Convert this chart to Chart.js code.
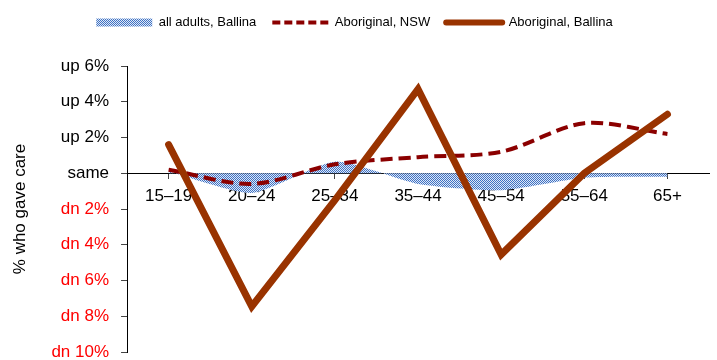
<!DOCTYPE html>
<html>
<head>
<meta charset="utf-8">
<script src="https://cdn.jsdelivr.net/npm/chart.js@4"></script>
<style>
html, body { margin: 0; padding: 0; background: #fff; }
#wrap { width: 717px; height: 360px; }
</style>
</head>
<body>
<div id="wrap"><canvas id="care"></canvas></div>
<script>
// age groups along the bottom
var ageGroups = ["15–19", "20–24", "25–34", "35–44", "45–54", "55–64", "65+"];
// change in % who gave care, percentage points
var allAdultsBallina = [0.1, -1.1, 0.65, -0.6, -0.95, -0.25, -0.2];
var aboriginalNSW = [0.2, -0.6, 0.5, 0.9, 1.2, 2.8, 2.2];
var aboriginalBallina = [1.6, -7.45, -1.5, 4.7, -4.55, 0, 3.3];

var font = "'Liberation Sans', Arial, sans-serif";

// little blue dither pattern for the area
function dotPattern() {
    var c = document.createElement("canvas");
    c.width = 2; c.height = 2;
    var g = c.getContext("2d");
    g.fillStyle = "#dfe8f6";
    g.fillRect(0, 0, 2, 2);
    g.fillStyle = "#3f72c4";
    g.fillRect(0, 0, 1, 1);
    g.fillRect(1, 1, 1, 1);
    return g.createPattern(c, "repeat");
}
var dots = dotPattern();

// push plot area down a bit below the legend
var legendGap = {
    id: "legendGap",
    beforeInit: function(chart) {
        var fit = chart.legend.fit;
        chart.legend.fit = function() {
            fit.bind(chart.legend)();
            this.height += 27;
        };
    }
};

new Chart("care", {
    type: "line",
    data: {
        labels: ageGroups,
        datasets: [{
            label: "all adults, Ballina",
            data: allAdultsBallina,
            backgroundColor: dots,
            borderWidth: 0,
            fill: "origin",
            pointRadius: 0,
            tension: 0.2,
            order: 3
        }, {
            label: "Aboriginal, NSW",
            data: aboriginalNSW,
            borderColor: "#8b0000",
            borderWidth: 4,
            borderDash: [12, 6],
            fill: false,
            pointRadius: 0,
            tension: 0.3,
            order: 2
        }, {
            label: "Aboriginal, Ballina",
            data: aboriginalBallina,
            borderColor: "#993300",
            borderWidth: 7,
            borderCapStyle: "round",
            fill: false,
            pointRadius: 0,
            tension: 0,
            order: 1
        }]
    },
    options: {
        responsive: true,
        maintainAspectRatio: false,
        animation: false,
        layout: { padding: { left: 0, right: 8, top: 0, bottom: 8 } },
        plugins: {
            tooltip: { enabled: false },
            legend: {
                display: true,
                position: "top",
                labels: {
                    usePointStyle: true,
                    pointStyleWidth: 56,
                    boxHeight: 8,
                    padding: 16,
                    color: "#000",
                    font: { family: font, size: 13 },
                    generateLabels: function(chart) {
                        var styles = [
                            { pointStyle: "rect", fillStyle: dots, strokeStyle: "rgba(0,0,0,0)", lineWidth: 0, lineDash: [] },
                            { pointStyle: "line", fillStyle: "#8b0000", strokeStyle: "#8b0000", lineWidth: 4, lineDash: [8, 4] },
                            { pointStyle: "line", fillStyle: "#993300", strokeStyle: "#993300", lineWidth: 6, lineDash: [] }
                        ];
                        return chart.data.datasets.map(function(ds, i) {
                            var s = styles[i];
                            return {
                                text: ds.label,
                                datasetIndex: i,
                                pointStyle: s.pointStyle,
                                fillStyle: s.fillStyle,
                                strokeStyle: s.strokeStyle,
                                lineWidth: s.lineWidth,
                                lineDash: s.lineDash,
                                lineCap: i === 2 ? "round" : "butt",
                                fontColor: "#000",
                                hidden: false
                            };
                        });
                    }
                }
            }
        },
        scales: {
            x: {
                position: { y: 0 },
                offset: true,
                grid: { drawOnChartArea: false, tickLength: 5, color: "#444" },
                border: { color: "#000", width: 1 },
                ticks: { color: "#000", padding: 8, font: { family: font, size: 17 } }
            },
            y: {
                min: -10,
                max: 6,
                grid: { drawOnChartArea: false, tickLength: 6, color: "#444" },
                border: { color: "#000", width: 1 },
                afterFit: function(scale) {
                    scale.paddingBottom = 0;
                },
                ticks: {
                    stepSize: 2,
                    padding: 12,
                    font: { family: font, size: 17 },
                    color: function(ctx) { return ctx.tick.value < 0 ? "#ff0000" : "#000"; },
                    callback: function(v) {
                        if (v > 0) return "up " + v + "%";
                        if (v < 0) return "dn " + (-v) + "%";
                        return "same";
                    }
                },
                title: {
                    display: true,
                    text: "% who gave care",
                    color: "#000",
                    font: { family: font, size: 17 },
                    padding: { top: 10, bottom: 9 }
                }
            }
        }
    },
    plugins: [legendGap]
});
</script>
</body>
</html>
